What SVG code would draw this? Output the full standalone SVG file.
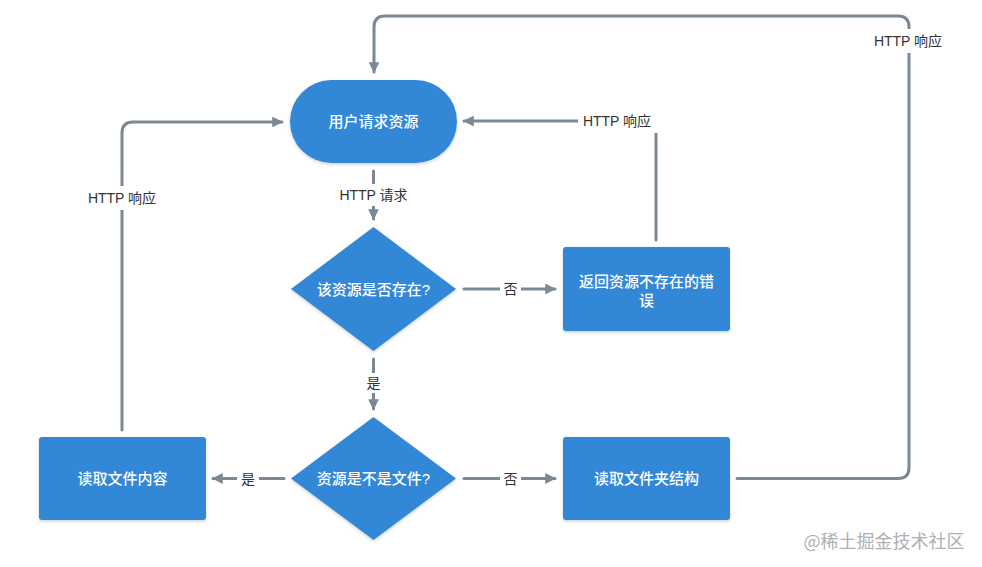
<svg xmlns="http://www.w3.org/2000/svg" width="982" height="567" viewBox="0 0 982 567">
<defs>
<marker id="arr" viewBox="0 0 10 10" refX="9" refY="5" markerWidth="3.6" markerHeight="3.6" orient="auto" markerUnits="strokeWidth">
<path d="M0,0 L10,5 L0,10 Z" fill="#7b8896"/>
</marker>
<filter id="sh" x="-10%" y="-10%" width="120%" height="130%">
<feDropShadow dx="0" dy="1.5" stdDeviation="1.5" flood-color="#000" flood-opacity="0.18"/>
</filter>
<style>
.node{fill:#3287d7;filter:url(#sh)}
.nt{font-family:"Liberation Sans","Noto Sans CJK SC",sans-serif;font-size:15px;font-weight:500;fill:#fff;text-anchor:middle;dominant-baseline:central}
.ln{fill:none;stroke:#7b8896;stroke-width:3;stroke-linecap:round;stroke-linejoin:round}
.lb{font-family:"Liberation Sans","Noto Sans CJK SC",sans-serif;font-size:14px;fill:#333;text-anchor:middle;dominant-baseline:central}
.bg{fill:#fff}
</style>
</defs>
<rect width="982" height="567" fill="#fff"/>
<g id="connectors">
<path class="ln" d="M373.5,171 L373.5,219" marker-end="url(#arr)"/>
<path class="ln" d="M464,289 L555,289" marker-end="url(#arr)"/>
<path class="ln" d="M373.5,359 L373.5,409" marker-end="url(#arr)"/>
<path class="ln" d="M284,478.5 L213,478.5" marker-end="url(#arr)"/>
<path class="ln" d="M464,478.5 L555,478.5" marker-end="url(#arr)"/>
<path class="ln" d="M656,240 L656,121 L464,121" marker-end="url(#arr)"/>
<path class="ln" d="M737,478.5 L898,478.5 Q909,478.5 909,467.5 L909,27 Q909,16 898,16 L385,16 Q374,16 374,27 L374,72" marker-end="url(#arr)"/>
<path class="ln" d="M122,430 L122,133 Q122,122 133,122 L282,122" marker-end="url(#arr)"/>
<rect class="bg" x="334" y="184" width="80" height="22"/>
<text class="lb" x="373.5" y="195">HTTP 请求</text>
<rect class="bg" x="500" y="279" width="21" height="20"/>
<text class="lb" x="510.5" y="289">否</text>
<rect class="bg" x="363" y="373" width="21" height="20"/>
<text class="lb" x="373.5" y="383">是</text>
<rect class="bg" x="237" y="468" width="22" height="20"/>
<text class="lb" x="248" y="478.5">是</text>
<rect class="bg" x="500" y="468" width="21" height="20"/>
<text class="lb" x="510.5" y="478.5">否</text>
<rect class="bg" x="578" y="109" width="84" height="24"/>
<text class="lb" x="617" y="121">HTTP 响应</text>
<rect class="bg" x="868" y="29" width="82" height="24"/>
<text class="lb" x="908" y="41">HTTP 响应</text>
<rect class="bg" x="82" y="186" width="82" height="24"/>
<text class="lb" x="122" y="198">HTTP 响应</text>
</g>
<g id="n1">
<rect class="node" x="290" y="80" width="167" height="83" rx="41.5"/>
<text class="nt" x="373.5" y="121.5">用户请求资源</text>
</g>
<g id="n2">
<polygon class="node" points="373.5,227 456,289 373.5,351 291,289"/>
<text class="nt" x="373.5" y="289">该资源是否存在?</text>
</g>
<g id="n3">
<rect class="node" x="563" y="247" width="167" height="84" rx="3"/>
<text class="nt" x="646.5" y="281">返回资源不存在的错</text>
<text class="nt" x="646.5" y="300">误</text>
</g>
<g id="n4">
<polygon class="node" points="373.5,417 456,478.5 373.5,540 291,478.5"/>
<text class="nt" x="373.5" y="478.5">资源是不是文件?</text>
</g>
<g id="n5">
<rect class="node" x="39" y="437" width="167" height="83" rx="3"/>
<text class="nt" x="122.5" y="478.5">读取文件内容</text>
</g>
<g id="n6">
<rect class="node" x="563" y="437" width="167" height="83" rx="3"/>
<text class="nt" x="646.5" y="478.5">读取文件夹结构</text>
</g>
<text x="884" y="540" font-family="'Noto Sans CJK SC',sans-serif" font-size="18" fill="#b0b0b0" text-anchor="middle" dominant-baseline="central">@稀土掘金技术社区</text>
</svg>
